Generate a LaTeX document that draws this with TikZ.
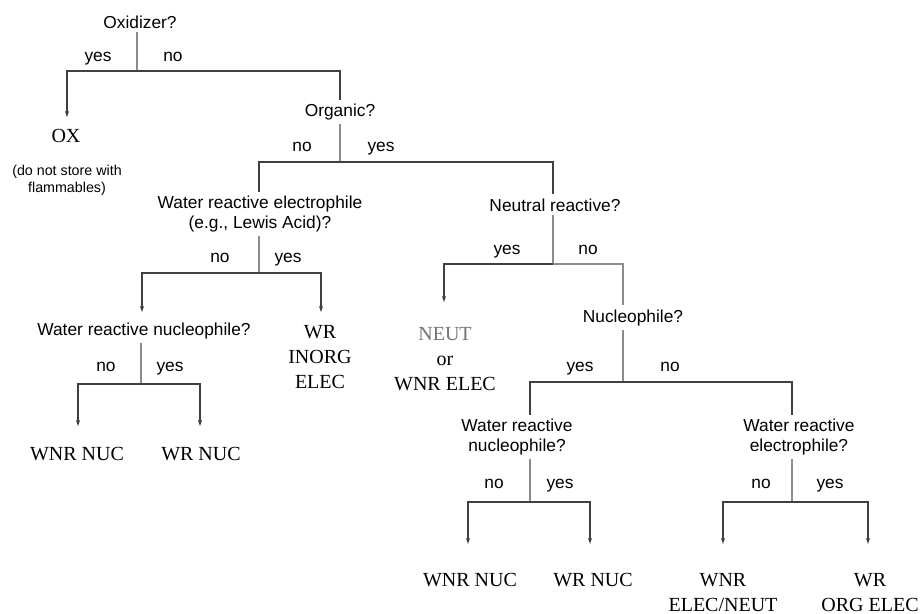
\documentclass[tikz,border=0pt]{standalone}
\usepackage{fontspec}
\setmainfont{Liberation Serif}
\setsansfont{Liberation Sans}
\usetikzlibrary{arrows.meta}
\definecolor{barcol}{gray}{0.25}
\definecolor{stemcol}{gray}{0.55}

\begin{document}
\begin{tikzpicture}[x=0.75pt,y=-0.75pt,
    question/.style={font=\sffamily\fontsize{13}{15}\selectfont, align=center, anchor=base, inner sep=3pt},
    answer/.style={font=\sffamily\fontsize{13}{15}\selectfont, anchor=base, inner sep=0pt},
    outcome/.style={font=\rmfamily\fontsize{15}{18.75}\selectfont, align=center, anchor=base, inner sep=0pt},
    note/.style={font=\sffamily\fontsize{10.7}{12.75}\selectfont, align=center, anchor=base, inner sep=0pt},
    stem/.style={draw=stemcol, line width=0.8pt},
    bar/.style={draw=barcol, line width=0.8pt},
    heavybar/.style={draw=barcol, line width=1.4pt},
    arr/.style={-{Latex[length=5pt,width=3.2pt]}}]
    \useasboundingbox (0,0) rectangle (922,614);

    % Questions (placed at the baseline of their last line)
    \node[question] (oxid) at (140,28) {Oxidizer?};
    \node[question] (organic) at (340,116.5) {Organic?};
    \node[question] (wrelec) at (260,228.5) {Water reactive electrophile\\(e.g., Lewis Acid)?};
    \node[question] (wrnuc) at (144,335.5) {Water reactive nucleophile?};
    \node[question] (neutral) at (555,211) {Neutral reactive?};
    \node[question] (nucleo) at (633,322) {Nucleophile?};
    \node[question] (wrnucB) at (517,451.5) {Water reactive\\nucleophile?};
    \node[question] (wrelecB) at (799,451.5) {Water reactive\\electrophile?};

    % Outcomes
    \node[outcome] (ox) at (66,142.7) {OX};
    \node[note] (oxnote) at (67,192) {(do not store with\\flammables)};
    \node[outcome] (wrinorg) at (320,388.3) {WR\\INORG\\ELEC};
    \node[outcome] (wnrnucA) at (77,460) {WNR NUC};
    \node[outcome] (wrnucA) at (201,460) {WR NUC};
    \node[outcome] (neut) at (445,390) {{\color{black!55}NEUT}\\or\\WNR ELEC};
    \node[outcome] (wnrnucB) at (470,586.7) {WNR NUC};
    \node[outcome] (wrnucleB) at (593,586.7) {WR NUC};
    \node[outcome] (wnrelec) at (723,611.5) {WNR\\ELEC/NEUT};
    \node[outcome] (wrorg) at (870,611.5) {WR\\ORG ELEC};

    % Answers
    \node[answer] (y1) at (98,61) {yes};
    \node[answer] (n1) at (173,61) {no};
    \node[answer] (n2) at (302,151.5) {no};
    \node[answer] (y2) at (381,151.5) {yes};
    \node[answer] (n3) at (220,262.5) {no};
    \node[answer] (y3) at (288,262.5) {yes};
    \node[answer] (n4) at (106,371.5) {no};
    \node[answer] (y4) at (170,371.5) {yes};
    \node[answer] (y5) at (507,254) {yes};
    \node[answer] (n5) at (588,254) {no};
    \node[answer] (y6) at (580,371.5) {yes};
    \node[answer] (n6) at (670,371.5) {no};
    \node[answer] (n7) at (494,488) {no};
    \node[answer] (y7) at (560,488) {yes};
    \node[answer] (n8) at (761,488) {no};
    \node[answer] (y8) at (830,488) {yes};

    % Branch points and arrow ends
    \coordinate (j1) at (137,71);
    \coordinate (j2) at (340,162);
    \coordinate (j3) at (259,273);
    \coordinate (j4) at (141,384);
    \coordinate (j5) at (553,264);
    \coordinate (j6) at (623,382);
    \coordinate (j7) at (530,502);
    \coordinate (j8) at (792,502);
    \coordinate (t-ox) at (67,118);
    \coordinate (t-wrnuc) at (142,313);
    \coordinate (t-wrinorg) at (321,313);
    \coordinate (t-wnrnucA) at (78,427);
    \coordinate (t-wrnucA) at (200,427);
    \coordinate (t-neut) at (444,303);
    \coordinate (t-wnrnucB) at (468,545);
    \coordinate (t-wrnucB) at (590,545);
    \coordinate (t-wnrelec) at (723,545);
    \coordinate (t-wrorg) at (868,545);

    % Lines
    \draw[stem] (j1 |- oxid.south) -- (j1);
    \draw[bar, arr] (j1) -| (t-ox);
    \draw[bar] (j1) -| (j2 |- organic.north);

    \draw[stem] (j2 |- organic.south) -- (j2);
    \draw[bar] (j2) -| (j3 |- wrelec.north);
    \draw[bar] (j2) -| (j5 |- neutral.north);

    \draw[stem] (j3 |- wrelec.south) -- (j3);
    \draw[bar, arr] (j3) -| (t-wrnuc);
    \draw[bar, arr] (j3) -| (t-wrinorg);

    \draw[stem] (j4 |- wrnuc.south) -- (j4);
    \draw[bar, arr] (j4) -| (t-wnrnucA);
    \draw[bar, arr] (j4) -| (t-wrnucA);

    \draw[stem] (j5 |- neutral.south) -- (j5);
    \draw[bar, arr] (j5) -| (t-neut);
    \draw[stem] (j5) -| (j6 |- nucleo.north);

    \draw[stem] (j6 |- nucleo.south) -- (j6);
    \draw[bar] (j6) -| (j7 |- wrnucB.north);
    \draw[bar] (j6) -| (j8 |- wrelecB.north);

    \draw[stem] (j7 |- wrnucB.south) -- (j7);
    \draw[heavybar, arr] (j7) -| (t-wnrnucB);
    \draw[heavybar, arr] (j7) -| (t-wrnucB);

    \draw[stem] (j8 |- wrelecB.south) -- (j8);
    \draw[heavybar, arr] (j8) -| (t-wnrelec);
    \draw[heavybar, arr] (j8) -| (t-wrorg);
\end{tikzpicture}
\end{document}
